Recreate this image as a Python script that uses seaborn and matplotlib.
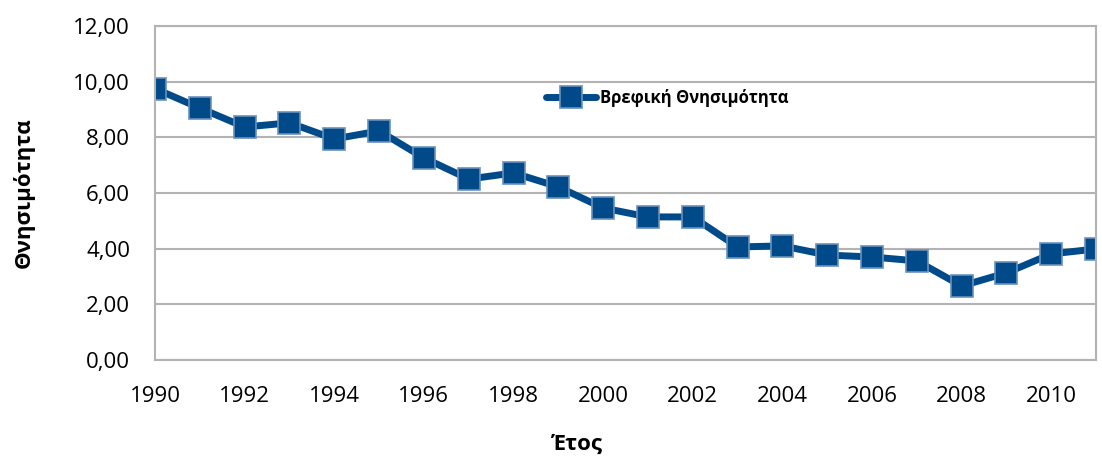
import numpy as np
import pandas as pd
import seaborn as sns
import matplotlib.pyplot as plt
from matplotlib.ticker import FuncFormatter, MultipleLocator

# data
years = list(range(1990, 2012))
mortality = [9.75, 9.05, 8.37, 8.52, 7.94, 8.23, 7.26, 6.50, 6.72, 6.22, 5.46,
             5.14, 5.14, 4.06, 4.10, 3.77, 3.70, 3.56, 2.66, 3.13, 3.81, 3.99]
series_name = "Βρεφική Θνησιμότητα"

df = pd.DataFrame({"year": years, "value": mortality, "series": series_name})

sns.set_style("white")
plt.rcParams['font.family'] = ['Open Sans', 'DejaVu Sans']
plt.rcParams['text.color'] = 'black'
plt.rcParams['xtick.labelcolor'] = 'black'
plt.rcParams['ytick.labelcolor'] = 'black'
plt.rcParams['axes.labelcolor'] = 'black'

fig = plt.figure(figsize=(11.02, 4.59), dpi=100)
ax = fig.add_axes([0.1407, 0.2157, 0.8539, 0.7277])

line_color = "#004A8A"
grid_color = "#B3B3B3"

sns.lineplot(data=df, x="year", y="value", hue="series", palette=[line_color],
             marker="s", markersize=16, linewidth=5, markeredgecolor="#6A90BC",
             markeredgewidth=1.2, ax=ax)

ax.set_xlim(1990, 2011)
ax.set_ylim(0, 12)
ax.yaxis.set_major_locator(MultipleLocator(2))
ax.yaxis.set_major_formatter(FuncFormatter(lambda v, p: f"{v:.2f}".replace(".", ",")))
ax.set_xticks(years)
ax.set_xticklabels([str(y) if y % 2 == 0 else "" for y in years])
ax.grid(axis="y", color=grid_color, linewidth=1.5)
ax.set_axisbelow(True)
for s in ax.spines.values():
    s.set_color(grid_color)
    s.set_linewidth(1.5)
ax.tick_params(axis="x", direction="out", length=7, width=1.5, color=grid_color,
               labelsize=16, pad=12)
ax.tick_params(axis="y", length=0, labelsize=16, pad=18)

ax.set_xlabel("Έτος", fontsize=16, fontweight="bold")
ax.set_ylabel("Θνησιμότητα", fontsize=16, fontweight="bold")
ax.xaxis.set_label_coords(0.448, -0.22)
ax.yaxis.set_label_coords(-0.128, 0.5)

leg = ax.legend(loc="center left", bbox_to_anchor=(0.4, 0.785), frameon=False,
                handlelength=3.0, handletextpad=0.2,
                prop={"weight": "bold", "size": 12})

fig.savefig("out.png", dpi=100)
